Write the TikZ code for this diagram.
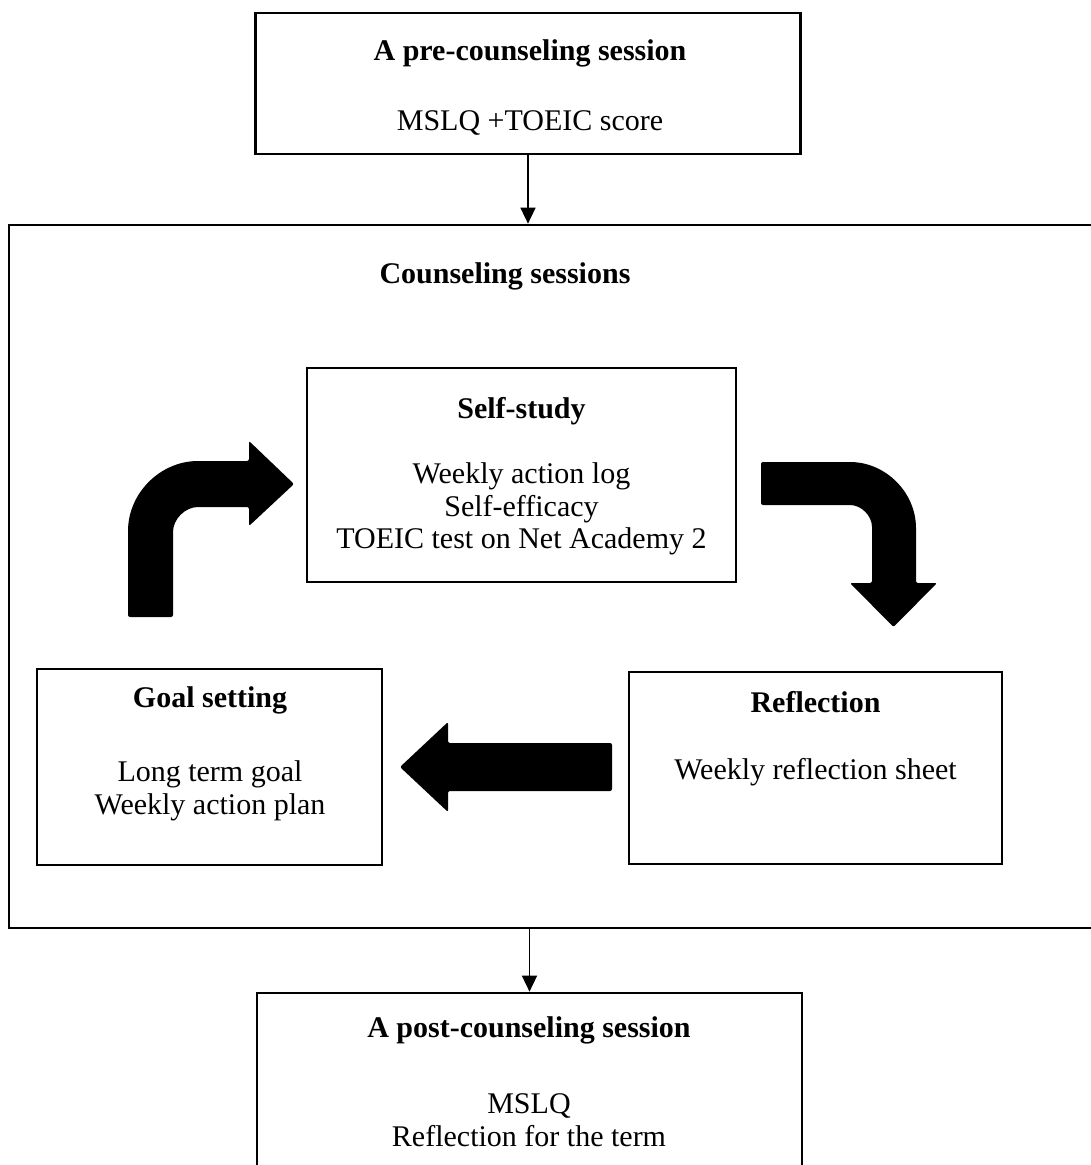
\documentclass[tikz,border=0pt]{standalone}
\usepackage{fontspec}
\setmainfont{Liberation Serif}
\usetikzlibrary{arrows.meta}

\begin{document}
\begin{tikzpicture}[x=1pt,y=-1pt,
    caja/.style={draw,line width=2pt,inner sep=0pt},
    marco/.style={draw,line width=2.7pt,inner sep=0pt},
    titulo/.style={font=\fontsize{30}{32}\selectfont\bfseries,inner sep=0pt},
    texto/.style={font=\fontsize{30}{32.5}\selectfont,align=center,inner sep=0pt},
    flecha/.style={line width=1.6pt,-{Triangle[width=15pt,length=16pt]}},
    bloque/.style={fill=black,rounded corners=2pt}]
  \useasboundingbox (0,0) rectangle (1091,1165);
  \clip (0,0) rectangle (1091,1165);

  % Sesion previa
  \node[marco,minimum width=545pt,minimum height=141pt] (pre) at (528,83.5) {};
  \node[titulo] (prehead) at (530,53) {A pre-counseling session};
  \node[texto] (prebody) at (530,123) {MSLQ +TOEIC score};

  % Marco de las sesiones
  \node[marco,minimum width=1101pt,minimum height=703pt] (counsel) at (559.5,576.5) {};
  \node[titulo] (counselhead) at (505,276) {Counseling sessions};

  % Cajas del ciclo
  \node[caja,minimum width=429pt,minimum height=214pt] (study) at (521.5,475) {};
  \node[titulo] (studyhead) at (521.5,411) {Self-study};
  \node[texto] (studybody) at (521.5,509) {Weekly action log\\Self-efficacy\\TOEIC test on Net Academy 2};

  \node[caja,minimum width=345pt,minimum height=196pt] (goal) at (209.5,767) {};
  \node[titulo] (goalhead) at (210,700) {Goal setting};
  \node[texto] (goalbody) at (210,791) {Long term goal\\Weekly action plan};

  \node[caja,minimum width=373pt,minimum height=192pt] (refl) at (815.5,768) {};
  \node[titulo] (reflhead) at (815.5,702) {Reflection};
  \node[texto] (reflbody) at (815.5,772) {Weekly reflection sheet};

  % Sesion posterior
  \node[marco,minimum width=545pt,minimum height=260pt] (post) at (529.5,1123) {};
  \node[titulo] (posthead) at (529,1030) {A post-counseling session};
  \node[texto] (postbody) at (529,1120) {MSLQ\\Reflection for the term};

  % Flechas finas
  \draw[flecha] (pre.south) -- (pre.south |- counsel.north);
  \draw[flecha] (post.north |- counsel.south) -- (post.north);

  % Flechas gruesas
  \fill[bloque] (128,617) -- (128,533)
    .. controls (128,493.2) and (160.2,461) .. (200,461)
    -- (249,461) -- (249,441) -- (294,484) -- (249,526) -- (249,507) -- (200,507)
    .. controls (185.1,507) and (173,519.1) .. (173,534) -- (173,617) -- cycle;
  \fill[bloque] (761,462) -- (848,462)
    .. controls (885.6,462) and (916,492.4) .. (916,530)
    -- (916,583) -- (937,583) -- (893.5,627) -- (850,583) -- (872,583) -- (872,529)
    .. controls (872,515.7) and (861.3,505) .. (848,505) -- (761,505) -- cycle;
  \fill[bloque] (612,743) -- (448,743) -- (448,722) -- (400,767) -- (448,812)
    -- (448,791) -- (612,791) -- cycle;
\end{tikzpicture}
\end{document}
